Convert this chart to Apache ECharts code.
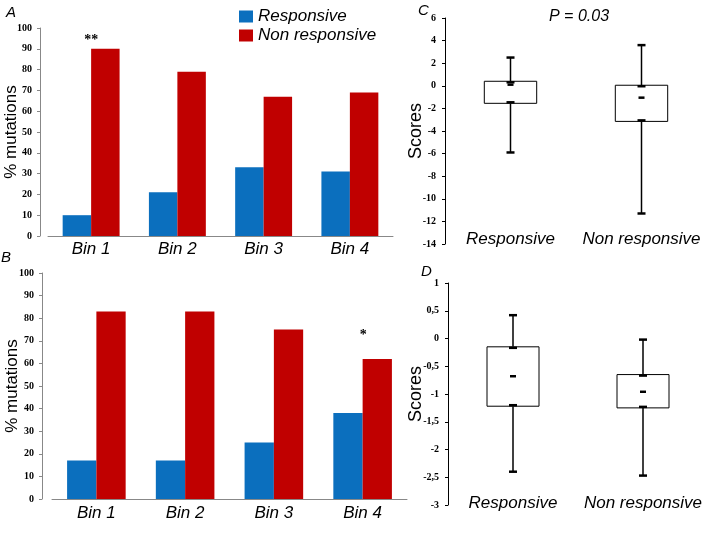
<!DOCTYPE html>
<html>
<head>
<meta charset="utf-8">
<script src="https://cdn.jsdelivr.net/npm/echarts@6/dist/echarts.min.js"></script>
<style>
  html, body { margin: 0; padding: 0; background: #fff; }
  #chart { width: 719px; height: 537px; }
</style>
</head>
<body>
<div id="chart"></div>
<script>
// panels A and B: % mutations per bin
const bins = ['Bin 1', 'Bin 2', 'Bin 3', 'Bin 4'];
const respA = [10, 21, 33, 31];
const nonRespA = [90, 79, 67, 69];
const sigA = ['**', '', '', ''];
const respB = [17, 17, 25, 38];
const nonRespB = [83, 83, 75, 62];
const sigB = ['', '', '', '*'];

// panels C and D: score box plots
const groups = ['Responsive', 'Non responsive'];
const lowC = [-5.9, -11.3];
const q1C = [-1.55, -3.15];
const medC = [0.1, -1.05];
const q3C = [0.4, 0.05];
const highC = [2.5, 3.6];
const lowD = [-2.4, -2.47];
const q1D = [-1.22, -1.25];
const medD = [-0.68, -0.96];
const q3D = [-0.15, -0.65];
const highD = [0.42, -0.02];

const BLUE = '#0B6FBE';
const RED = '#C00000';
const SANS = 'Liberation Sans';
const SERIF = 'Liberation Serif';

const chart = echarts.init(document.getElementById('chart'));

function redData(values, marks, dist) {
  return values.map((v, i) => marks[i]
    ? { value: v, label: { show: true, formatter: marks[i], position: 'top', distance: dist, offset: [-14, 0],
        fontFamily: SERIF, fontWeight: 'bold', fontSize: 14, color: '#000' } }
    : v);
}

function boxData(lo, q1, md, q3, hi) {
  return groups.map((g, i) => [i, lo[i], q1[i], md[i], q3[i], hi[i]]);
}

function renderBox(params, api) {
  const i = api.value(0);
  const lo = api.coord([i, api.value(1)]);
  const q1 = api.coord([i, api.value(2)]);
  const md = api.coord([i, api.value(3)]);
  const q3 = api.coord([i, api.value(4)]);
  const hi = api.coord([i, api.value(5)]);
  const half = api.size([1, 0])[0] * 0.2;
  const x = lo[0];
  const cap = 4;
  const line = (x1, y1, x2, y2, w) => ({
    type: 'line', shape: { x1, y1, x2, y2 }, style: { stroke: '#000', lineWidth: w }
  });
  return {
    type: 'group',
    children: [
      line(x, hi[1], x, q3[1], 1.5),
      line(x, q1[1], x, lo[1], 1.5),
      { type: 'rect', shape: { x: x - half, y: q3[1], width: half * 2, height: q1[1] - q3[1] },
        style: { fill: '#fff', stroke: '#000', lineWidth: 1 } },
      line(x - cap, hi[1], x + cap, hi[1], 2.5),
      line(x - cap, lo[1], x + cap, lo[1], 2.5),
      line(x - cap, q3[1] + 1, x + cap, q3[1] + 1, 2.5),
      line(x - cap, q1[1] - 1, x + cap, q1[1] - 1, 2.5),
      line(x - 3, md[1], x + 3, md[1], 2.5)
    ]
  };
}

const barYAxis = (offset, gap) => ({
  type: 'value', min: 0, max: 100, interval: 10, offset: offset,
  name: '% mutations', nameLocation: 'middle', nameGap: gap, nameMoveOverlap: false,
  nameTextStyle: { fontFamily: SANS, fontSize: 17, color: '#000' },
  axisLine: { show: true, lineStyle: { color: '#888' } },
  axisTick: { show: true, length: 3, lineStyle: { color: '#888' } },
  axisLabel: { margin: 8, fontFamily: SERIF, fontWeight: 'bold', fontSize: 10, color: '#000' },
  splitLine: { show: false }
});

const barXAxis = (margin) => ({
  type: 'category', data: bins,
  axisLine: { lineStyle: { color: '#888' } },
  axisTick: { show: false },
  axisLabel: { interval: 0, margin: margin, fontFamily: SANS, fontStyle: 'italic', fontSize: 17, color: '#000' }
});

const boxYAxis = (min, max, step, gap, fmt) => ({
  type: 'value', min: min, max: max, interval: step,
  name: 'Scores', nameLocation: 'middle', nameGap: gap, nameMoveOverlap: false,
  nameTextStyle: { fontFamily: SANS, fontSize: 18, color: '#000' },
  axisLine: { show: true, lineStyle: { color: '#000' } },
  axisTick: { show: true, length: 3, lineStyle: { color: '#000' } },
  axisLabel: { margin: 9, fontFamily: SERIF, fontWeight: 'bold', fontSize: 10, color: '#000', formatter: fmt },
  splitLine: { show: false }
});

const boxXAxis = (margin) => ({
  type: 'category', data: groups,
  axisLine: { show: false }, axisTick: { show: false },
  axisLabel: { interval: 0, margin: margin, fontFamily: SANS, fontStyle: 'italic', fontSize: 17, color: '#000' }
});

const letter = (text, left, top) => ({
  text: text, left: left, top: top, padding: 0,
  textStyle: { fontFamily: SANS, fontStyle: 'italic', fontWeight: 'normal', fontSize: 15, color: '#000' }
});

chart.setOption({
  animation: false,
  backgroundColor: '#fff',
  title: [
    letter('A', 6, 5),
    letter('B', 1, 250),
    letter('C', 418, 3),
    letter('D', 421, 264),
    { text: 'P = 0.03', left: 549, top: 9, padding: 0,
      textStyle: { fontFamily: SANS, fontStyle: 'italic', fontWeight: 'normal', fontSize: 16, color: '#000' } }
  ],
  legend: {
    orient: 'vertical', left: 239, top: 8, itemGap: 2, padding: 0,
    itemWidth: 14, itemHeight: 12, icon: 'rect',
    data: ['Responsive', 'Non responsive'],
    textStyle: { fontFamily: SANS, fontStyle: 'italic', fontSize: 17, color: '#000' }
  },
  grid: [
    { left: 48, top: 28, width: 345, height: 208, outerBoundsMode: 'none' },
    { left: 52, top: 273, width: 355, height: 226, outerBoundsMode: 'none' },
    { left: 445, top: 18, width: 262, height: 226, outerBoundsMode: 'none' },
    { left: 448, top: 283, width: 260, height: 222, outerBoundsMode: 'none' }
  ],
  xAxis: [
    Object.assign(barXAxis(5), { gridIndex: 0 }),
    Object.assign(barXAxis(6), { gridIndex: 1 }),
    Object.assign(boxXAxis(-13), { gridIndex: 2 }),
    Object.assign(boxXAxis(-10), { gridIndex: 3 })
  ],
  yAxis: [
    Object.assign(barYAxis(8, 20), { gridIndex: 0 }),
    Object.assign(barYAxis(10, 21), { gridIndex: 1 }),
    Object.assign(boxYAxis(-14, 6, 2, 20, v => String(v)), { gridIndex: 2 }),
    Object.assign(boxYAxis(-3, 1, 0.5, 23, v => String(v).replace('.', ',')), { gridIndex: 3 })
  ],
  series: [
    { name: 'Responsive', type: 'bar', xAxisIndex: 0, yAxisIndex: 0, data: respA,
      itemStyle: { color: BLUE }, barGap: '0%', barCategoryGap: '34%' },
    { name: 'Non responsive', type: 'bar', xAxisIndex: 0, yAxisIndex: 0, data: redData(nonRespA, sigA, 1),
      itemStyle: { color: RED }, barGap: '0%', barCategoryGap: '34%' },
    { name: 'Responsive', type: 'bar', xAxisIndex: 1, yAxisIndex: 1, data: respB,
      itemStyle: { color: BLUE }, barGap: '0%', barCategoryGap: '34%' },
    { name: 'Non responsive', type: 'bar', xAxisIndex: 1, yAxisIndex: 1, data: redData(nonRespB, sigB, 16),
      itemStyle: { color: RED }, barGap: '0%', barCategoryGap: '34%' },
    { type: 'custom', xAxisIndex: 2, yAxisIndex: 2, renderItem: renderBox,
      encode: { x: 0, y: [1, 2, 3, 4, 5] }, data: boxData(lowC, q1C, medC, q3C, highC) },
    { type: 'custom', xAxisIndex: 3, yAxisIndex: 3, renderItem: renderBox,
      encode: { x: 0, y: [1, 2, 3, 4, 5] }, data: boxData(lowD, q1D, medD, q3D, highD) }
  ]
});
</script>
</body>
</html>
